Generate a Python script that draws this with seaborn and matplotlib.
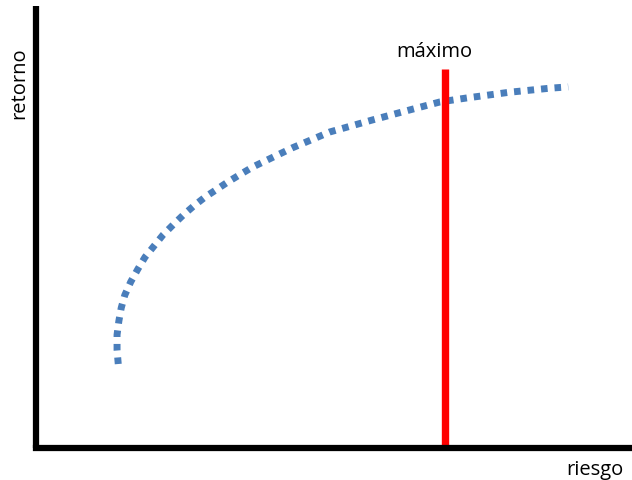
import numpy as np
import pandas as pd
import matplotlib
matplotlib.use("Agg")
import matplotlib.pyplot as plt
import seaborn as sns

# Efficient frontier (riesgo, retorno) (arbitrary units 0-100)
riesgo = [13.8, 13.6, 13.6, 13.9, 14.3, 14.9, 15.9, 17.1, 18.3, 19.8, 21.3, 23.0,
          24.7, 26.5, 28.4, 30.2, 32.2, 34.4, 36.4, 38.4, 43.0, 49.3, 56.4, 63.3,
          67.8, 72.3, 79.5, 86.2, 89.3]
retorno = [19.0, 22.2, 25.6, 28.7, 31.7, 34.6, 37.6, 40.5, 43.2, 45.7, 48.2, 50.5,
           52.7, 54.8, 56.8, 58.4, 60.2, 62.0, 63.6, 64.9, 67.9, 71.5, 74.2, 76.7,
           78.3, 79.2, 80.5, 81.4, 81.7]
maximo_x = [68.6, 68.6]
maximo_y = [0.0, 85.7]

sns.set_theme(style="white")
plt.rcParams['font.family'] = ['Open Sans', 'DejaVu Sans']

fig = plt.figure(figsize=(6.32, 4.81), dpi=100)
ax = fig.add_axes([36/632, (481-449)/481, 596/632, 442/481])

df = pd.DataFrame({"riesgo": riesgo, "retorno": retorno})
sns.lineplot(data=df, x="riesgo", y="retorno", sort=False, estimator=None, ax=ax,
             color="#4a7ebb", linewidth=5, dashes=False)
ax.lines[-1].set_dashes((0.95, 1.0))
ax.lines[-1].set_dash_capstyle("butt")

dm = pd.DataFrame({"x": maximo_x, "y": maximo_y})
sns.lineplot(data=dm, x="x", y="y", sort=False, estimator=None, ax=ax,
             color="#ff0000", linewidth=5.3)
ax.lines[-1].set_solid_capstyle("butt")

ax.set_xlim(0, 100)
ax.set_ylim(0, 100)
ax.set_xticks([])
ax.set_yticks([])
ax.set_xlabel("")
ax.set_ylabel("")
for s in ["top", "right"]:
    ax.spines[s].set_visible(False)
for s in ["left", "bottom"]:
    ax.spines[s].set_color("black")
    ax.spines[s].set_linewidth(4.5)
ax.spines["left"].set_capstyle("butt")
ax.spines["bottom"].set_capstyle("projecting")

fig.text(19/632, 1 - 83/481, "retorno", rotation=90, ha="center", va="center",
         fontsize=14.5, color="black")
fig.text(595/632, 1 - 470/481, "riesgo", ha="center", va="center",
         fontsize=14.5, color="black")
fig.text(434/632, 1 - 52/481, "máximo", ha="center", va="center",
         fontsize=14.5, color="black")

fig.savefig("out.png", dpi=100, facecolor="white")
